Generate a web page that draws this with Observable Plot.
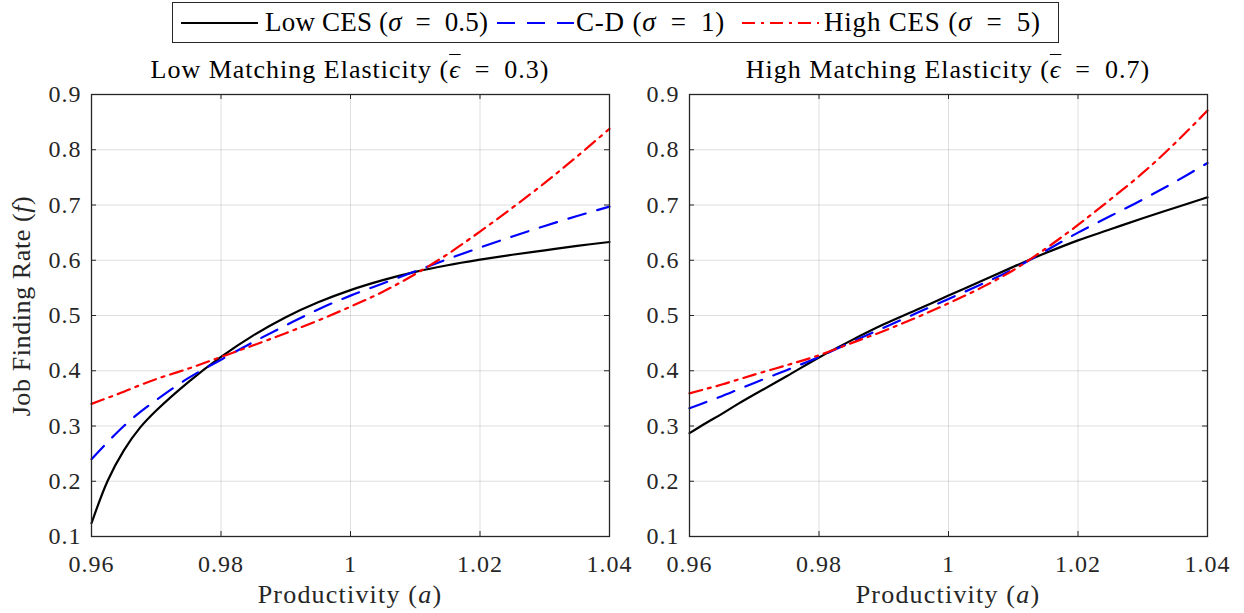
<!DOCTYPE html>
<html>
<head>
<meta charset="utf-8">
<script src="https://cdn.jsdelivr.net/npm/d3@7"></script>
<script src="https://cdn.jsdelivr.net/npm/@observablehq/plot@0.6"></script>
<style>
  html, body { margin: 0; padding: 0; background: #fff; }
  #wrap { position: relative; width: 1244px; height: 613px; overflow: hidden; }
  .abs { position: absolute; white-space: nowrap; }
  .panel { position: absolute; top: 0; overflow: visible; }
</style>
</head>
<body>
<div id="wrap"></div>
<script>
// ---------- data ----------
const productivity = [0.96, 0.9625, 0.965, 0.9675, 0.97, 0.975, 0.98, 0.985, 0.99, 0.995, 1.0, 1.005, 1.01, 1.015, 1.02, 1.025, 1.03, 1.035, 1.04];

// Low matching elasticity (eps = 0.3)
const lowEpsLowCES  = [0.124, 0.201, 0.256, 0.297, 0.328, 0.380, 0.425, 0.464, 0.497, 0.524, 0.546, 0.564, 0.579, 0.591, 0.601, 0.610, 0.618, 0.626, 0.633];
const lowEpsCD      = [0.240, 0.271, 0.300, 0.325, 0.347, 0.387, 0.420, 0.452, 0.482, 0.511, 0.536, 0.558, 0.580, 0.602, 0.623, 0.643, 0.662, 0.680, 0.697];
const lowEpsHighCES = [0.340, 0.351, 0.362, 0.374, 0.385, 0.404, 0.425, 0.446, 0.468, 0.491, 0.516, 0.543, 0.575, 0.611, 0.652, 0.695, 0.740, 0.788, 0.838];

// High matching elasticity (eps = 0.7)
const highEpsLowCES  = [0.287, 0.305, 0.322, 0.340, 0.357, 0.390, 0.424, 0.455, 0.484, 0.510, 0.536, 0.562, 0.588, 0.613, 0.636, 0.656, 0.676, 0.695, 0.714];
const highEpsCD      = [0.332, 0.343, 0.354, 0.366, 0.378, 0.401, 0.425, 0.452, 0.478, 0.504, 0.530, 0.556, 0.584, 0.617, 0.650, 0.680, 0.710, 0.742, 0.776];
const highEpsHighCES = [0.359, 0.367, 0.375, 0.384, 0.393, 0.410, 0.428, 0.450, 0.472, 0.496, 0.522, 0.550, 0.582, 0.621, 0.664, 0.710, 0.758, 0.812, 0.871];

const seriesNames = ["Low CES", "C-D", "High CES"];
const seriesColors = ["#000000", "#0000ff", "#ff0000"];
const seriesDash = [null, "18,12", "13,6,3,6"];

const xTicks = [0.96, 0.98, 1.0, 1.02, 1.04];
const yTicks = [0.1, 0.2, 0.3, 0.4, 0.5, 0.6, 0.7, 0.8, 0.9];

const panelTitles = ["Low Matching Elasticity", "High Matching Elasticity"];
const panelEps = ["0.3", "0.7"];
const legendLabels = ["Low CES", "C-D", "High CES"];
const legendSigma = ["0.5", "1", "5"];

// ---------- build ----------
const FONT = '"Liberation Serif", serif';
const wrap = document.getElementById("wrap");
wrap.style.fontFamily = FONT;

function table(arrs) {
  return arrs.flatMap((arr, i) => arr.map((v, j) => ({a: productivity[j], f: v, s: seriesNames[i]})));
}

function panel(data, left, mLeft, mRight) {
  const W = 622, H = 613;
  const innerW = W - mLeft - mRight;
  const innerH = H - 94 - 77;
  const marks = [
    Plot.gridX(xTicks, {stroke: "#262626", strokeOpacity: 0.15, strokeWidth: 1}),
    Plot.gridY(yTicks, {stroke: "#262626", strokeOpacity: 0.15, strokeWidth: 1})
  ];
  seriesNames.forEach((name, i) => {
    marks.push(Plot.line(data.filter(d => d.s === name), {
      x: "a", y: "f", stroke: seriesColors[i], strokeWidth: 2.2,
      strokeDasharray: seriesDash[i], curve: "catmull-rom"
    }));
  });
  marks.push(
    Plot.tickX(xTicks, {x: d => d, stroke: "#262626", insetTop: innerH - 5}),
    Plot.tickX(xTicks, {x: d => d, stroke: "#262626", insetBottom: innerH - 5}),
    Plot.tickY(yTicks, {y: d => d, stroke: "#262626", insetRight: innerW - 5}),
    Plot.tickY(yTicks, {y: d => d, stroke: "#262626", insetLeft: innerW - 5}),
    Plot.frame({stroke: "#262626", strokeWidth: 1.3}),
    Plot.axisX({ticks: xTicks, tickSize: 0, tickPadding: 18, label: null,
      tickFormat: d => d === 1 ? "1" : d3.format(".2f")(d)}),
    Plot.axisY({ticks: yTicks, tickSize: 0, tickPadding: 10, label: null,
      tickFormat: d3.format(".1f")})
  );
  const svg = Plot.plot({
    width: W, height: H,
    marginLeft: mLeft, marginRight: mRight, marginTop: 94, marginBottom: 77,
    x: {domain: [0.96, 1.04]},
    y: {domain: [0.1, 0.9]},
    style: {fontFamily: FONT, fontSize: "24px", letterSpacing: "1px", color: "#262626", background: "transparent", overflow: "visible"},
    marks
  });
  svg.classList.add("panel");
  svg.style.left = left + "px";
  svg.style.fontFamily = FONT;
  wrap.appendChild(svg);
}

panel(table([lowEpsLowCES, lowEpsCD, lowEpsHighCES]), 0, 91, 13);
panel(table([highEpsLowCES, highEpsCD, highEpsHighCES]), 622, 67, 37);

function textDiv(html, css) {
  const d = document.createElement("div");
  d.className = "abs";
  d.style.fontFamily = FONT;
  Object.assign(d.style, css);
  d.innerHTML = html;
  wrap.appendChild(d);
  return d;
}

const eps = '<i style="text-decoration: overline; text-decoration-thickness: 1px;">ϵ</i>';

// titles and x labels
const plotLefts = [91, 689];
plotLefts.forEach((l, i) => {
  textDiv(`${panelTitles[i]} (${eps}&ensp;=&ensp;${panelEps[i]})`, {
    left: l + "px", width: "518px", top: "57px", textAlign: "center",
    fontSize: "26px", lineHeight: "26px", letterSpacing: "1px", color: "#000"
  });
  textDiv("Productivity (<i>a</i>)", {
    left: l + "px", width: "518px", top: "582px", textAlign: "center",
    fontSize: "26px", lineHeight: "26px", letterSpacing: "1.2px", color: "#262626"
  });
});

// y label
textDiv("Job Finding Rate (<i>f</i>)", {
  left: "22px", top: "306px", transform: "translate(-50%,-50%) rotate(-90deg)",
  fontSize: "26px", lineHeight: "26px", letterSpacing: "0.6px", color: "#262626"
});

// legend box
const lg = document.createElement("div");
Object.assign(lg.style, {position: "absolute", left: "172px", top: "2px", width: "887px", height: "41px",
  border: "1.3px solid #262626", boxSizing: "border-box", background: "#fff"});
wrap.appendChild(lg);

const legendLineX = [181, 497, 742];
const legendTextX = [265, 576, 824];
seriesNames.forEach((n, i) => {
  const dash = seriesDash[i] ? `stroke-dasharray="${seriesDash[i]}"` : "";
  const s = document.createElementNS("http://www.w3.org/2000/svg", "svg");
  s.setAttribute("width", 80); s.setAttribute("height", 10);
  s.style.position = "absolute"; s.style.left = legendLineX[i] + "px"; s.style.top = "18px";
  s.innerHTML = `<line x1="0" y1="5" x2="77" y2="5" stroke="${seriesColors[i]}" stroke-width="2.2" ${dash}/>`;
  wrap.appendChild(s);
  textDiv(`${legendLabels[i]} (<i>σ</i>&ensp;=&ensp;${legendSigma[i]})`, {
    left: legendTextX[i] + "px", top: "9px", fontSize: "27px", lineHeight: "27px",
    letterSpacing: i === 0 ? "0.2px" : "0.8px", color: "#000"
  });
});
</script>
</body>
</html>
